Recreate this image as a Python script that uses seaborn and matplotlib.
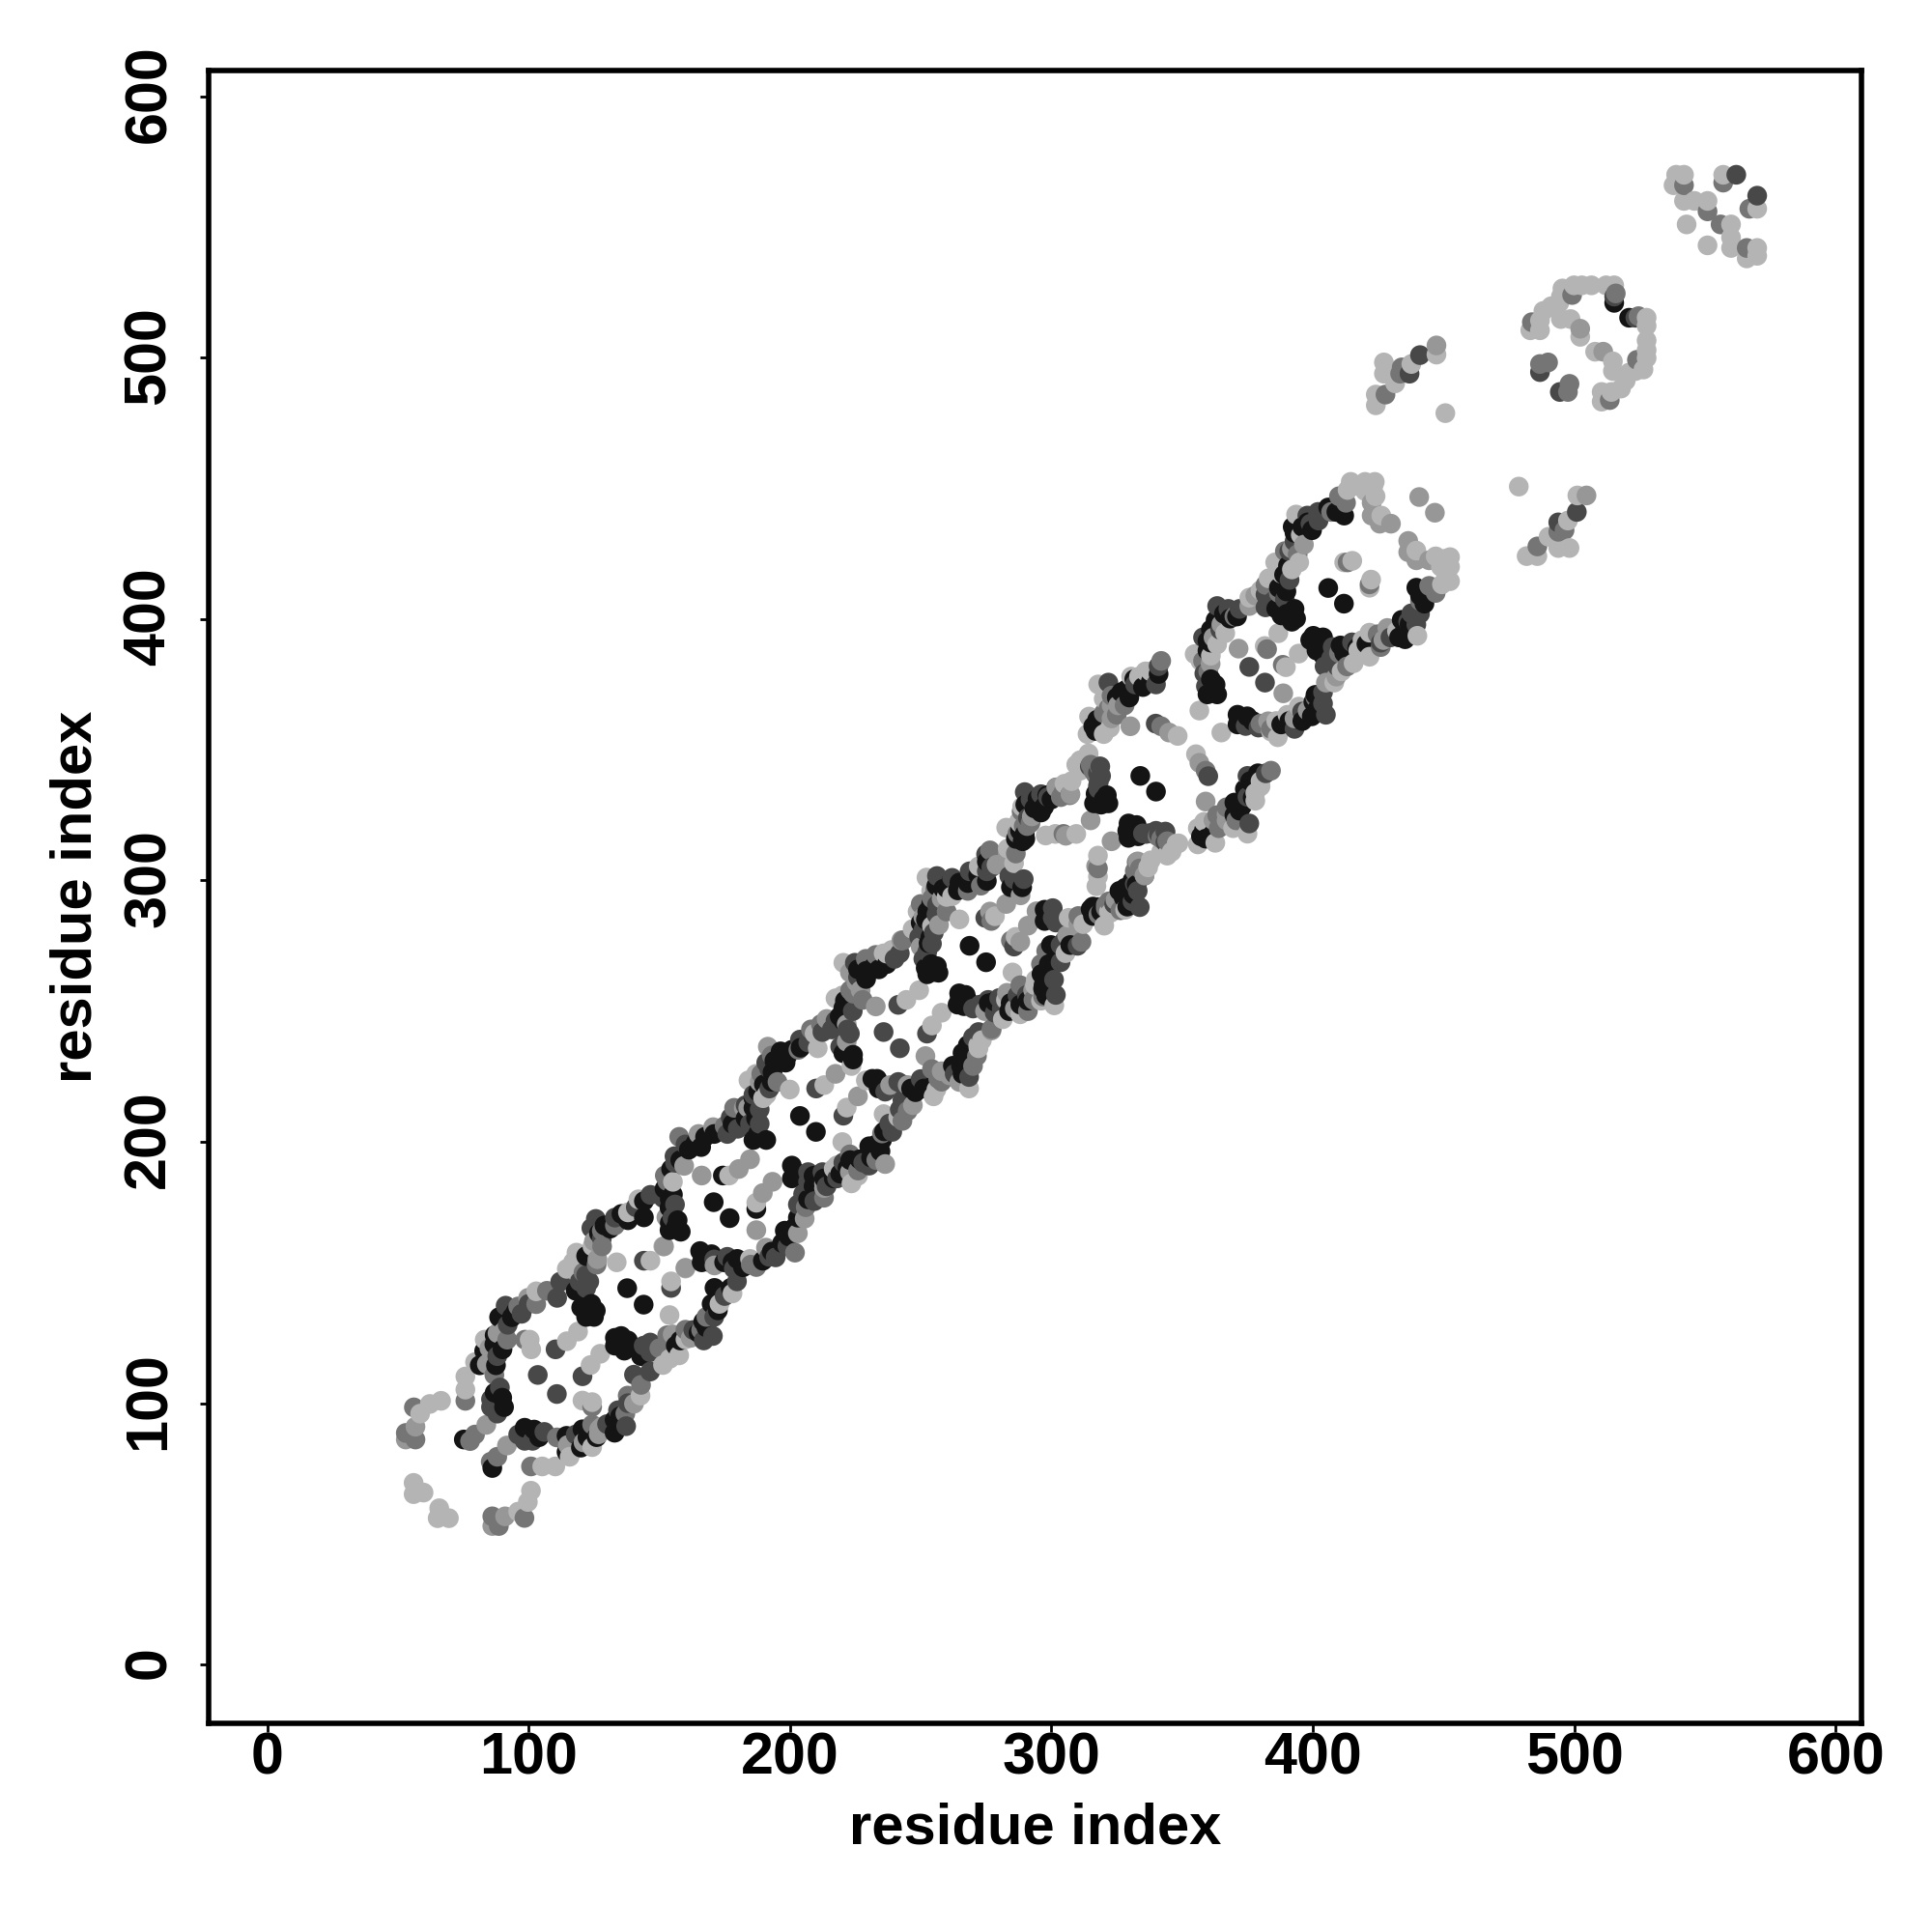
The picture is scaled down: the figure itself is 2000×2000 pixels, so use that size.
import pandas as pd
import seaborn as sns
import matplotlib.pyplot as plt
from matplotlib.transforms import ScaledTranslation

# contact pairs (above the diagonal), grouped by grey level
black_i = [412,405.9,392.3,396,399.7,390.5,389.9,388,393,393.6,368.3,362.8,359.7,359.7,362.8,359.7,363.4,405.9,
           341,331.7,328.6,326.7,329.8,317.5,319.4,316.9,334,321.2,316.9,321.8,316.3,298.4,294.7,293.5,297.2,288,289.8,
           286.4,290,275.3,275.3,264.8,261.7,258.6,264.2,252.5,253.1,250,253.7,256.2,251.9,256.8,252.5,268.7,
           234,229.1,229.1,220.4,220.4,200.7,196.4,198.3,193.3,187.8,186,178,167.5,163.8,161.3,154.5,155.2,153.9,156.4,158.2,153.9,
           220.4,224.1,224.1,190.9,187.8,186,186,203.8,174.3,170.8,
           144.1,144.1,135.5,131.2,126.9,122,121.3,125.7,120.1,125,122,93.6,88.7,86.9,90,81.3,87.5,89.9,90.6,75.2,137.7,515.3,
           409,398,393,389,387,386,390,392,371,366,361,361,361,362,338,335,325,316,320,319,300,290,296,289,272,268,260,256,254,252,
           253,254,255,237,232,226,221,219,204,199,194,193,190,187,183,171,166,158,152,154,154,157,138,129,124,118,124,95,87,83,87,288.8,284.5]
black_j = [439.6,442.7,435.3,435.3,434,420.5,410.6,401.4,403.9,400.2,400.2,399.6,391.6,387.9,374.9,371.2,371.2,411.9,
           379,377,373,372,370,361.5,358.4,357.2,340,332.6,333.2,329.5,329.5,332.6,331.3,327.6,328.2,319,317.8,
           315.9,315.9,307.2,299.8,299.2,299.8,296.8,296.2,288.1,284.4,283.8,278.3,267.2,266.5,264.7,264.1,275,
           266,265.4,262.3,251.2,246.3,235.2,234.6,230.3,226.6,219.2,216.7,206.9,201.9,199.5,197,189.6,179.8,174.8,167.4,165.6,166.2,
           233.9,233.3,231.5,200.7,203.2,200.7,213,209.9,187.1,176.9,
           177.3,171.1,172.4,166.8,165,156.3,140.3,135.4,136.6,133,133,132.9,132.9,122.5,120.6,114.5,114.5,102.1,98.5,86.1,144,521,
           441,437,433,417,412,404,402,399,401,402,396,391,377,373,376,374,370,359,331,329,331,329,326,315,302,299,297,298,291,285,
           276,268,265,268,267,266,254,248,236,233,231,223,222,209,209,203,198,193,182,178,169,170,170,168,158,143,138,135,126,120,104,297.4,297.4]

dark_i = [402.2,399.1,397.9,393,391.1,381.9,381.9,389.3,372,367.7,363.4,364.6,358.5,359.1,375.7,
          340,321.8,339.9,318.7,318.1,289.8,291,
          314.7,317.8,317.8,298.7,275.3,268.7,256.2,256.2,249.4,254.3,252.5,274.7,
          242,224.8,217.4,212.4,203.8,190.9,192.1,188.4,188.4,184.7,177.3,155.8,151.5,219.2,222.9,210,241.4,235.8,
          146.6,125.7,123.2,119.5,112.1,110.9,97.3,91.2,85.6,85.6,110.3,103.5,144.1,
          562,515.3,486.9,441,437,
          402,391,385,358,341,332,319,318,296,292,275,277,262,256,255,251,251,240,226,224,222,216,207,192,186,183,180,176,160,156,156,155,
          141,133,124,128,122,122,100,92,88,89,88,285.7,283.9,289.4]
dark_j = [437.7,436.5,439.6,429.7,415,409.4,404.5,407.6,403.9,403.9,405,395.9,379.2,374.3,381.7,
          375,375.7,360,343.6,337.5,333.8,324,
          343.6,336.2,341.1,331.9,303.5,303.5,301.7,290.6,278.3,275.8,272.7,285.7,
          272.1,268.5,246.3,242,239.1,230.3,220.4,212.4,206.9,206.9,209.3,194.5,178.5,236.4,241.4,220.4,252.4,242,
          179.7,170.5,146.5,146.5,146.5,140.3,134.2,137.3,101.5,98.5,120.6,110.8,154.5,
          570,523.4,494.5,501,493.9,
          441,426,407,393,382,375,340,335,333,331,310,305,301,287,280,281,270,270,263,250,243,243,238,228,218,214,205,203,199,192,176,171,
          175,171,167,163,149,144,138,130,118,106,96,300.5,301.7,300.5]

mid_i = [412.7,389.3,394.2,381.9,382.5,413.3,
         342,323,325,321.8,342,315,316.9,304.6,307,288.6,304.6,
         318.4,301.8,303.6,289.4,290.7,286.4,276.5,255.6,259.9,254.3,243.2,
         232.8,224.1,227.8,211.8,203.2,195.2,178.6,157.6,152.1,277,
         128.1,91.8,102.9,86.9,75.8,56.1,53,56.7,79.5,77.6,98.6,133,
         542,551,557,483.8,499.2,515.9,486.9,490,434,433.4,427.8,
         358,360,320,316,292,287,223,189,153,126,410,407,387,370,328,273,268,250,229,208,193,175,128,121,107,96]
mid_j = [444.5,426,424.8,413.1,388.5,421.7,
         384,370.7,363.4,365.8,359,344.3,340.6,333.8,332.6,326.4,317.8,
         343.6,335.6,331.9,320.8,320.8,310.3,311.5,296.8,288.1,293.1,277.1,
         271.5,256.7,254.3,245,235.2,222.9,213,201.9,187.1,284.5,
         160,124.3,137.9,110.8,100.9,98.4,88.6,86.1,88,85.5,124.3,168,
         566,556,567,513.6,524,524.6,497.6,498.2,496.3,493.9,485.9,
         384,380,364,342,322,318,258,226,185,153,447,441,410,401,367,298,296,291,270,243,233,206,166,150,143,137]

grey_i = [422.5,422.5,425.6,429.9,440.7,396.6,375.7,371.6,360.9,
          325.5,330.2,345,315,302,
          307.3,292.5,283.3,305.5,276.5,282.7,250,
          242.6,222.9,225.4,221.7,191.5,188.4,182.3,170.6,159.5,152.7,166.2,221.7,217.4,232.8,180.4,184.7,
          126.3,88.1,99.8,56.7,53,83.8,151.8,502.3,447.3,
          323,258,90,84,392,378,365,362,323,279,257,251,227,214,184,165,125,91,85,288.2]
grey_j = [444.5,439.6,436.5,436.5,446.7,428.5,405,388.7,382.9,
          367,359,356.6,323,335.6,
          333,324.5,310.3,317.1,288.1,291,274.6,
          277.1,264.8,261.1,245,236.4,222.9,213,205.6,190.8,171.1,187.1,238.3,226,251.8,189.6,193.3,
          155.1,126.8,140.3,91,86.1,91.7,160,511.1,504.7,
          367,293,127,115,427,409,398,393,362,306,283,286,258,247,213,203,162,128,121,294.3]

light_i = [414.5,413.3,420,423.7,423.1,426.2,393.6,395.4,394.8,385.6,388,383.1,375.7,386.8,366.5,363.4,354.8,356.6,381.6,412,415.1,
           333.5,330.5,317.9,320,314.4,313.8,322.4,348.3,314.2,309.5,307.7,309.5,301.5,297.8,
           309.8,314.1,288.8,287.6,282.7,285.7,283.3,272.2,252.2,259.9,248.8,254.3,246.9,264.8,278.4,
           238.9,235.8,220.4,217.4,209.4,210.6,184.1,189.7,155.2,151.5,199.9,213.1,244.5,249.4,176.7,223.5,
           138,124.4,118.3,114.6,102.9,83.2,79.5,75.8,75.8,66.5,62.2,58.5,56,56,59.8,133.7,146.6,100.4,101,114.6,118.9,
           539,542,538,542,546,551,557,543,483.2,486.9,486.9,488.2,491.2,495.5,494.9,494.3,499.9,502.9,506.6,512.2,515.3,494.9,498.6,502.3,
           447.3,437.7,430.9,431.5,427.2,427.2,424.1,424.1,450.7,
           361,288,417,420,424,311,311,305,392,380,357,338,336,320,262,254,237,220,187,191,142,117]
light_j = [452.5,449.4,452.5,452.5,450.7,439.6,440,432.2,421.7,421.7,417.4,415.6,408.2,394.6,394.6,390.3,386.6,365,389.7,421.7,422.3,
           378,378,375,369.5,362.7,356,358.4,355.3,348.6,344.3,338,317.8,317.8,317.2,
           344.2,347.9,328.2,322.6,320.2,306.6,312.2,305.4,301.1,293.7,288.1,282.6,281.4,285.1,286.3,
           273.4,272.1,268.5,254.9,241.4,235.8,223.5,216.7,184.7,160,220,221.7,254.3,258,187.1,229,
           173,160,157.6,151.4,142.8,124.3,115.7,110.2,105.2,100.9,99.7,96,69.5,65.2,65.8,153.9,154.5,124.3,120.6,123.7,127.4,
           570,570,566,560,560,560,570,551,510.5,514.2,510.5,517.9,519.7,526.5,523.4,521,527.7,527.7,527.7,527.7,527.7,514.8,514.8,508,
           501.2,497.6,493.3,490.2,498.2,493.9,485.9,481.8,478.8,
           386,322,451,449,447,342,346,337,419,411,384,380,380,356,294,296,272,256,226,218,178,154]

axis_ticks = [0, 100, 200, 300, 400, 500, 600]
grey_levels = {"black": "#141414", "dark": "#484848", "mid": "#757575", "grey": "#979797", "light": "#b4b4b4"}

groups = [("black", black_i, black_j), ("dark", dark_i, dark_j), ("mid", mid_i, mid_j),
          ("grey", grey_i, grey_j), ("light", light_i, light_j)]
rows = []
for name, res_i, res_j in groups:
    upper = pd.DataFrame({"x": res_i, "y": res_j, "level": name})
    lower = pd.DataFrame({"x": res_j, "y": res_i, "level": name})  # the map is symmetric
    rows += [upper, lower]
df = pd.concat(rows, ignore_index=True).sort_values(["x", "y"])

sns.set_style("white")
plt.rcParams["font.family"] = ["Liberation Sans", "DejaVu Sans"]
plt.rcParams["font.weight"] = "bold"
plt.rcParams["text.color"] = "black"
plt.rcParams["axes.labelcolor"] = "black"
plt.rcParams["xtick.labelcolor"] = "black"
plt.rcParams["ytick.labelcolor"] = "black"

fig = plt.figure(figsize=(10, 10), dpi=200)
ax = fig.add_axes([216.3 / 2000, 1 - 1784 / 2000, (1927 - 216.3) / 2000, (1784 - 72.7) / 2000])

sns.scatterplot(data=df, x="x", y="y", hue="level", palette=grey_levels,
                s=54, linewidth=0, legend=False, ax=ax)

ax.set_xlim(-22.3, 609.9)
ax.set_ylim(-22.5, 610)
ax.set_xticks(axis_ticks)
ax.set_yticks(axis_ticks)
ax.tick_params(axis="both", length=3.2, width=1, color="black", labelsize=22, bottom=True, left=True)
ax.tick_params(axis="x", pad=0)
ax.tick_params(axis="y", pad=8.5)
nudge = ScaledTranslation(0, 2.5 / 200, fig.dpi_scale_trans)
for lab in ax.get_yticklabels():
    lab.set_rotation(90)
    lab.set_va("center")
    lab.set_transform(lab.get_transform() + nudge)

for sp in ax.spines.values():
    sp.set_linewidth(2)
    sp.set_color("black")

ax.set_xlabel("residue index", fontsize=21.5, fontweight="bold", va="center")
ax.set_ylabel("residue index", fontsize=21.5, fontweight="bold", va="center")
ax.xaxis.set_label_coords(0.5, (1784 - 1893) / (1784 - 72.7))
ax.yaxis.set_label_coords((79 - 216.3) / (1927 - 216.3), 0.5)

fig.savefig("out.png", dpi=200)
